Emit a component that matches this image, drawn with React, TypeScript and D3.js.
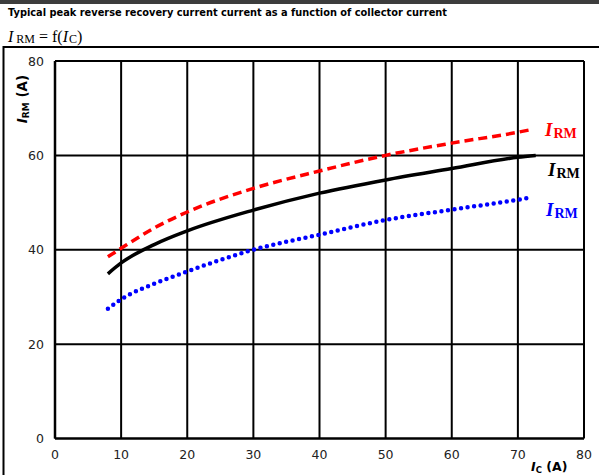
import React from "react";
import * as d3 from "d3";

const xTicks = [0, 10, 20, 30, 40, 50, 60, 70, 80];
const yTicks = [0, 20, 40, 60, 80];

const redX = [8, 10, 15, 20, 30, 40, 50, 60, 70, 71.8];
const redY = [38.5, 40.3, 44.6, 48.0, 53.0, 56.7, 60.0, 62.6, 64.9, 65.4];
const blackX = [8, 10, 15, 20, 30, 40, 50, 60, 70, 72.7];
const blackY = [34.9, 37.2, 41.1, 44.0, 48.4, 52.0, 54.8, 57.2, 59.6, 60.0];
const blueX = [8, 10, 15, 20, 30, 40, 50, 60, 70, 71.3];
const blueY = [27.5, 29.5, 32.8, 35.4, 40.0, 43.2, 46.3, 48.5, 50.6, 50.9];

const W = 599;
const H = 475;

export default function App() {
  const x = d3.scaleLinear().domain([0, 80]).range([55, 584]);
  const y = d3.scaleLinear().domain([0, 80]).range([438.5, 61]);
  const line = d3
    .line<[number, number]>()
    .x((d) => x(d[0]))
    .y((d) => y(d[1]))
    .curve(d3.curveMonotoneX);
  const zip = (a: number[], b: number[]) => a.map((v, i) => [v, b[i]] as [number, number]);

  const sans = "'DejaVu Sans', Verdana, sans-serif";
  const serif = "'Liberation Serif', 'Times New Roman', serif";

  const legend = (lx: number, ly: number, color: string) => (
    <text x={lx} y={ly} fill={color} fontFamily={serif} fontWeight="bold">
      <tspan fontStyle="italic" fontSize={19}>I</tspan>
      <tspan fontSize={14} dx={1} dy={2}>RM</tspan>
    </text>
  );

  return (
    <svg width={W} height={H} style={{ position: "absolute", left: 0, top: 0, background: "#fff" }}>
      <rect x={0} y={0} width={W} height={4} fill="#3d3d3d" />
      <text x={8} y={16} fontFamily={sans} fontWeight="bold" fontSize={10} fill="#000" textLength={439} lengthAdjust="spacingAndGlyphs">
        Typical peak reverse recovery current current as a function of collector current
      </text>
      <text x={8} y={42} fontFamily={serif} fontSize={16} fill="#000">
        <tspan fontStyle="italic">I</tspan>
        <tspan fontSize={12} dx={3} dy={1}>RM</tspan>
        <tspan dy={-1}> = f(</tspan>
        <tspan fontStyle="italic">I</tspan>
        <tspan fontSize={12} dx={1} dy={1}>C</tspan>
        <tspan dy={-1}>)</tspan>
      </text>
      <line x1={3.5} y1={47} x2={W} y2={47} stroke="#000" strokeWidth={2} />
      <line x1={3.5} y1={46} x2={3.5} y2={H} stroke="#000" strokeWidth={2} />

      {xTicks.map((t) => (
        <line key={"gx" + t} x1={x(t)} x2={x(t)} y1={y(80)} y2={y(0)} stroke="#000" strokeWidth={2} />
      ))}
      {yTicks.map((t) => (
        <line key={"gy" + t} x1={x(0)} x2={x(80)} y1={y(t)} y2={y(t)} stroke="#000" strokeWidth={t === 0 ? 2.5 : 2} />
      ))}
      <line x1={x(0)} x2={x(0)} y1={y(80)} y2={y(0)} stroke="#000" strokeWidth={2.5} />

      {xTicks.map((t) => (
        <text key={"tx" + t} x={x(t)} y={459} textAnchor="middle" fontFamily={sans} fontSize={12.5} fill="#222">
          {t}
        </text>
      ))}
      {yTicks.map((t) => (
        <text key={"ty" + t} x={44} y={y(t) + 4.5} textAnchor="end" fontFamily={sans} fontSize={12.5} fill="#222">
          {t}
        </text>
      ))}

      <text transform="translate(27,99) rotate(-90)" textAnchor="middle" fontFamily={sans} fontWeight="bold" fontSize={13.5} fill="#000">
        <tspan fontStyle="italic">I</tspan>
        <tspan fontSize={9} dy={2}>RM</tspan>
        <tspan dy={-2}> (A)</tspan>
      </text>
      <text x={531} y={471} fontFamily={sans} fontWeight="bold" fontSize={12.5} fill="#000">
        <tspan fontStyle="italic">I</tspan>
        <tspan fontSize={8.5} dy={2}>C</tspan>
        <tspan dy={-2}> (A)</tspan>
      </text>

      <path d={line(zip(redX, redY)) || ""} fill="none" stroke="#ff0000" strokeWidth={3.5} strokeDasharray="9 5" />
      <path d={line(zip(blackX, blackY)) || ""} fill="none" stroke="#000" strokeWidth={3.5} />
      <path d={line(zip(blueX, blueY)) || ""} fill="none" stroke="#0000ff" strokeWidth={4.5} strokeDasharray="0 6.6" strokeLinecap="round" />

      {legend(545, 136, "#ff0000")}
      {legend(548, 176, "#000")}
      {legend(546, 216, "#0000ff")}
    </svg>
  );
}
